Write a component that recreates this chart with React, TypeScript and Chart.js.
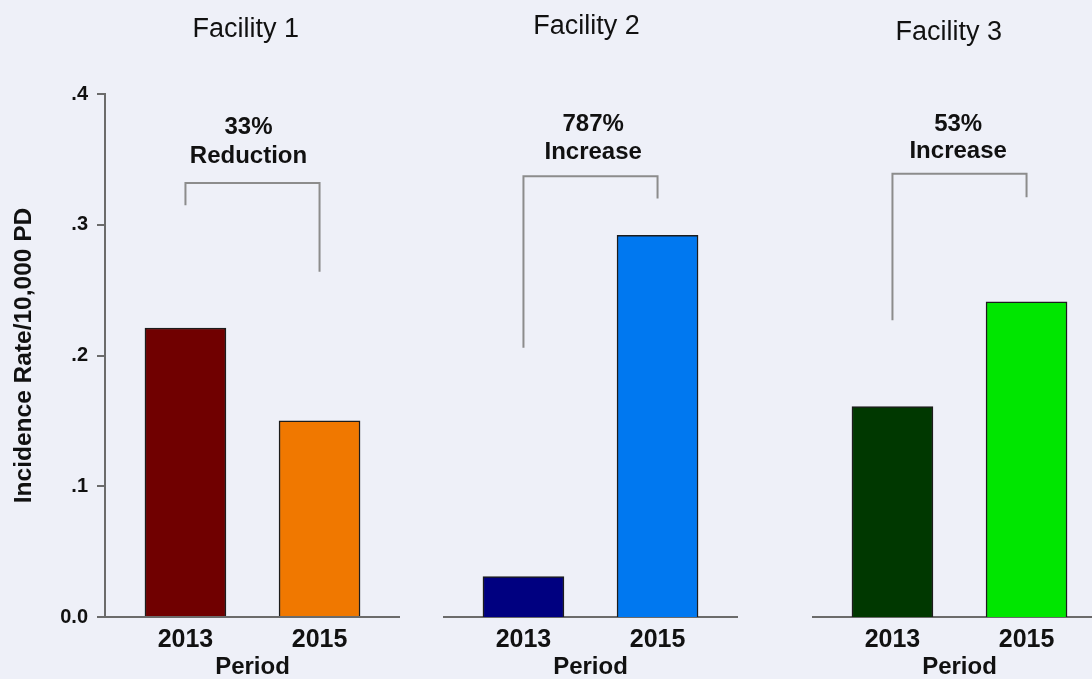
import React, { useEffect, useRef } from "react";
import { Chart, registerables } from "chart.js";

Chart.register(...registerables);

// ---- data ----
const periods = ["2013", "2015"];
const facilityNames = ["Facility 1", "Facility 2", "Facility 3"];
const facility1Rates = [0.221, 0.15];
const facility2Rates = [0.031, 0.292];
const facility3Rates = [0.161, 0.241];
const changePercents = ["33%", "787%", "53%"];
const changeWords = ["Reduction", "Increase", "Increase"];
const bracketTops = [0.332, 0.337, 0.339];
const bracketLeftEnds = [0.315, 0.206, 0.227];
const bracketRightEnds = [0.264, 0.32, 0.321];
const yTickLabels = ["0.0", ".1", ".2", ".3", ".4"];
const yAxisTitle = "Incidence Rate/10,000 PD";
const xAxisTitle = "Period";

const allRates = [facility1Rates, facility2Rates, facility3Rates];

// ---- styles / layout ----
const barColors = [
  ["#700000", "#f07800"],
  ["#000080", "#0078f0"],
  ["#003800", "#00e600"],
];
const panelLayout = [
  { left: 0, width: 400, showY: true, titleY: 30, titleAt: 0.45, noteAt: 0.47, noteOffsets: [56, 27] },
  { left: 443, width: 295, showY: false, titleY: 27, titleAt: 0.47, noteAt: 0.52, noteOffsets: [52, 24] },
  { left: 812, width: 295, showY: false, titleY: 33, titleAt: 0.42, noteAt: 0.49, noteOffsets: [49, 22] },
];
const FONT = 'Arial, "Liberation Sans", Helvetica, sans-serif';
const TEXT = "#111111";
const AXIS = "#6b6b6b";
const BG = "#eef0f8";
const HEIGHT = 679;

const notesPlugin = {
  id: "facilityNotes",
  afterDraw(chart: any, _args: any, opts: any) {
    const { ctx } = chart;
    const xs = chart.scales.x;
    const ys = chart.scales.y;
    ctx.save();
    ctx.fillStyle = TEXT;
    ctx.textAlign = "center";
    ctx.textBaseline = "middle";
    ctx.font = `normal 27px ${FONT}`;
    ctx.fillText(opts.title, xs.getPixelForValue(opts.titleAt), opts.titleY);

    const topPx = ys.getPixelForValue(opts.bracketTop);
    const noteX = xs.getPixelForValue(opts.noteAt);
    ctx.font = `bold 24px ${FONT}`;
    ctx.fillText(opts.percent, noteX, topPx - opts.noteOffsets[0]);
    ctx.fillText(opts.word, noteX, topPx - opts.noteOffsets[1]);

    const x0 = xs.getPixelForValue(0);
    const x1 = xs.getPixelForValue(1);
    ctx.strokeStyle = "#8c8c8c";
    ctx.lineWidth = 2;
    ctx.beginPath();
    ctx.moveTo(x0, ys.getPixelForValue(opts.leftEnd));
    ctx.lineTo(x0, topPx);
    ctx.lineTo(x1, topPx);
    ctx.lineTo(x1, ys.getPixelForValue(opts.rightEnd));
    ctx.stroke();
    ctx.restore();
  },
};

function Panel({ index }: { index: number }) {
  const ref = useRef<HTMLCanvasElement | null>(null);
  const lay = panelLayout[index];

  useEffect(() => {
    if (!ref.current) return;
    const rates = allRates[index];
    const chart = new Chart(ref.current, {
      type: "bar",
      data: {
        datasets: [
          {
            data: rates.map((v, i) => ({ x: i, y: v })),
            backgroundColor: barColors[index],
            borderColor: "#1c1c1c",
            borderWidth: 1.5,
            borderSkipped: "bottom",
            barThickness: 81,
          } as any,
        ],
      },
      options: {
        responsive: false,
        animation: false,
        devicePixelRatio: 1,
        layout: { padding: { top: 94, left: 0, right: 0, bottom: 0 } },
        plugins: {
          legend: { display: false },
          tooltip: { enabled: false },
          title: { display: false },
          facilityNotes: {
            title: facilityNames[index],
            titleY: lay.titleY,
            titleAt: lay.titleAt,
            noteAt: lay.noteAt,
            noteOffsets: lay.noteOffsets,
            percent: changePercents[index],
            word: changeWords[index],
            bracketTop: bracketTops[index],
            leftEnd: bracketLeftEnds[index],
            rightEnd: bracketRightEnds[index],
          },
        } as any,
        scales: {
          x: {
            type: "linear",
            offset: false,
            min: -0.6,
            max: 1.6,
            afterBuildTicks: (s: any) => {
              s.ticks = periods.map((_, i) => ({ value: i }));
            },
            afterFit: (s: any) => {
              s.height = 62;
              s.paddingLeft = 0;
              s.paddingRight = 0;
            },
            grid: { display: false, drawTicks: false, offset: false },
            border: { display: true, color: AXIS, width: 2 },
            ticks: {
              callback: (v: any) => periods[Math.round(v)] ?? "",
              font: { family: FONT, size: 25, weight: "bold", lineHeight: 1.2 },
              color: TEXT,
              padding: 8,
              autoSkip: false,
              maxRotation: 0,
            },
            title: {
              display: true,
              text: xAxisTitle,
              font: { family: FONT, size: 24, weight: "bold", lineHeight: 1 },
              color: TEXT,
              padding: { top: 0, bottom: 0 },
            },
          },
          y: {
            display: lay.showY,
            min: 0,
            max: 0.4,
            afterFit: (s: any) => {
              s.width = lay.showY ? 105 : 0;
            },
            ticks: {
              stepSize: 0.1,
              callback: (v: any) => yTickLabels[Math.round(v * 10)] ?? "",
              font: { family: FONT, size: 20, weight: "bold", lineHeight: 1.2 },
              color: TEXT,
              padding: 9,
            },
            grid: {
              display: true,
              drawOnChartArea: false,
              drawTicks: true,
              tickLength: 8,
              color: AXIS,
              lineWidth: 2,
            },
            border: { display: true, color: AXIS, width: 2 },
            title: {
              display: true,
              text: yAxisTitle,
              font: { family: FONT, size: 24.5, weight: "bold", lineHeight: 1 },
              color: TEXT,
              padding: { top: 12, bottom: 0 },
            },
          },
        },
      } as any,
      plugins: [notesPlugin],
    });
    return () => chart.destroy();
  }, [index]);

  return (
    <div style={{ position: "absolute", left: lay.left, top: 0, width: lay.width, height: HEIGHT }}>
      <canvas ref={ref} width={lay.width} height={HEIGHT} style={{ display: "block" }} />
    </div>
  );
}

export default function App() {
  return (
    <div
      style={{
        position: "fixed",
        left: 0,
        top: 0,
        width: 1092,
        height: HEIGHT,
        overflow: "hidden",
        background: BG,
      }}
    >
      {facilityNames.map((_, i) => (
        <Panel key={i} index={i} />
      ))}
    </div>
  );
}
